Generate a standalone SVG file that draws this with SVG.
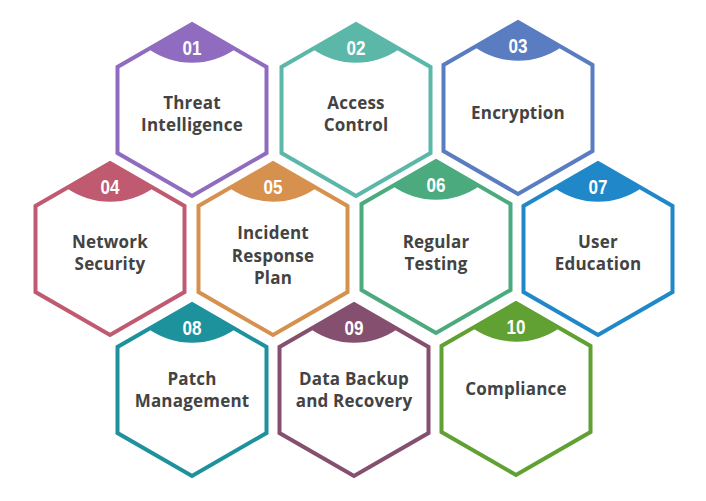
<svg xmlns="http://www.w3.org/2000/svg" xmlns:xlink="http://www.w3.org/1999/xlink" width="706" height="501" viewBox="0 0 706 501">
  <style>
    .hex { fill: #ffffff; stroke-width: 4; stroke-linejoin: miter; }
    text.num { font-family: "Liberation Sans", "DejaVu Sans", sans-serif; font-weight: 700; font-size: 20px; fill: #ffffff; text-anchor: middle; }
    text.lbl { font-family: "Open Sans", "Liberation Sans", sans-serif; font-weight: 700; font-size: 17px; fill: #434343; text-anchor: middle; letter-spacing: 0.2px; }
    .s1 { stroke: #8f6cc0; } .f1 { fill: #8f6cc0; }
    .s2 { stroke: #5bb8a9; } .f2 { fill: #5bb8a9; }
    .s3 { stroke: #5a7cc1; } .f3 { fill: #5a7cc1; }
    .s4 { stroke: #c05a70; } .f4 { fill: #c05a70; }
    .s5 { stroke: #d7914f; } .f5 { fill: #d7914f; }
    .s6 { stroke: #4caa7f; } .f6 { fill: #4caa7f; }
    .s7 { stroke: #2088c9; } .f7 { fill: #2088c9; }
    .s8 { stroke: #1d919c; } .f8 { fill: #1d919c; }
    .s9 { stroke: #85506f; } .f9 { fill: #85506f; }
    .s10 { stroke: #61a032; } .f10 { fill: #61a032; }
  </style>
  <defs>
    <path id="hexShape" d="M0,-86 L74.5,-43 L74.5,43 L0,86 L-74.5,43 L-74.5,-43 Z"/>
    <path id="capShape" d="M0,-86 L-43.5,-60.9 A76,76 0 0 0 43.5,-60.9 Z"/>
  </defs>
  <rect width="706" height="501" fill="#ffffff"/>
  <g id="connectors"/>

  <g id="node01" transform="translate(192,110)">
    <use xlink:href="#hexShape" class="hex s1"/>
    <use xlink:href="#capShape" class="f1"/>
    <text class="num" x="0" y="-55" textLength="19" lengthAdjust="spacingAndGlyphs" font-family="Liberation Sans, sans-serif" font-weight="bold" fill="#ffffff">01</text>
    <text class="lbl" x="0" y="-1" fill="#434343">Threat</text>
    <text class="lbl" x="0" y="20.5" fill="#434343">Intelligence</text>
  </g>

  <g id="node02" transform="translate(356,110)">
    <use xlink:href="#hexShape" class="hex s2"/>
    <use xlink:href="#capShape" class="f2"/>
    <text class="num" x="0" y="-55" textLength="19" lengthAdjust="spacingAndGlyphs" font-family="Liberation Sans, sans-serif" font-weight="bold" fill="#ffffff">02</text>
    <text class="lbl" x="0" y="-1" fill="#434343">Access</text>
    <text class="lbl" x="0" y="21" fill="#434343">Control</text>
  </g>

  <g id="node03" transform="translate(518,108)">
    <use xlink:href="#hexShape" class="hex s3"/>
    <use xlink:href="#capShape" class="f3"/>
    <text class="num" x="0" y="-55" textLength="19" lengthAdjust="spacingAndGlyphs" font-family="Liberation Sans, sans-serif" font-weight="bold" fill="#ffffff">03</text>
    <text class="lbl" x="0" y="11" fill="#434343">Encryption</text>
  </g>

  <g id="node04" transform="translate(110,249)">
    <use xlink:href="#hexShape" class="hex s4"/>
    <use xlink:href="#capShape" class="f4"/>
    <text class="num" x="0" y="-55" textLength="19" lengthAdjust="spacingAndGlyphs" font-family="Liberation Sans, sans-serif" font-weight="bold" fill="#ffffff">04</text>
    <text class="lbl" x="0" y="-1.5" fill="#434343">Network</text>
    <text class="lbl" x="0" y="20.5" fill="#434343">Security</text>
  </g>

  <g id="node05" transform="translate(273,249)">
    <use xlink:href="#hexShape" class="hex s5"/>
    <use xlink:href="#capShape" class="f5"/>
    <text class="num" x="0" y="-55" textLength="19" lengthAdjust="spacingAndGlyphs" font-family="Liberation Sans, sans-serif" font-weight="bold" fill="#ffffff">05</text>
    <text class="lbl" x="0" y="-10" fill="#434343">Incident</text>
    <text class="lbl" x="0" y="12.5" fill="#434343">Response</text>
    <text class="lbl" x="0" y="35" fill="#434343">Plan</text>
  </g>

  <g id="node06" transform="translate(436,247)">
    <use xlink:href="#hexShape" class="hex s6"/>
    <use xlink:href="#capShape" class="f6"/>
    <text class="num" x="0" y="-55" textLength="19" lengthAdjust="spacingAndGlyphs" font-family="Liberation Sans, sans-serif" font-weight="bold" fill="#ffffff">06</text>
    <text class="lbl" x="0" y="0.5" fill="#434343">Regular</text>
    <text class="lbl" x="0" y="22.5" fill="#434343">Testing</text>
  </g>

  <g id="node07" transform="translate(598,249)">
    <use xlink:href="#hexShape" class="hex s7"/>
    <use xlink:href="#capShape" class="f7"/>
    <text class="num" x="0" y="-55" textLength="19" lengthAdjust="spacingAndGlyphs" font-family="Liberation Sans, sans-serif" font-weight="bold" fill="#ffffff">07</text>
    <text class="lbl" x="0" y="-1.5" fill="#434343">User</text>
    <text class="lbl" x="0" y="21" fill="#434343">Education</text>
  </g>

  <g id="node08" transform="translate(192,390)">
    <use xlink:href="#hexShape" class="hex s8"/>
    <use xlink:href="#capShape" class="f8"/>
    <text class="num" x="0" y="-55" textLength="19" lengthAdjust="spacingAndGlyphs" font-family="Liberation Sans, sans-serif" font-weight="bold" fill="#ffffff">08</text>
    <text class="lbl" x="0" y="-5" fill="#434343">Patch</text>
    <text class="lbl" x="0" y="16.5" fill="#434343">Management</text>
  </g>

  <g id="node09" transform="translate(354,390)">
    <use xlink:href="#hexShape" class="hex s9"/>
    <use xlink:href="#capShape" class="f9"/>
    <text class="num" x="0" y="-55" textLength="19" lengthAdjust="spacingAndGlyphs" font-family="Liberation Sans, sans-serif" font-weight="bold" fill="#ffffff">09</text>
    <text class="lbl" x="0" y="-5" fill="#434343">Data Backup</text>
    <text class="lbl" x="0" y="16.5" fill="#434343">and Recovery</text>
  </g>

  <g id="node10" transform="translate(516,389)">
    <use xlink:href="#hexShape" class="hex s10"/>
    <use xlink:href="#capShape" class="f10"/>
    <text class="num" x="0" y="-55" textLength="19" lengthAdjust="spacingAndGlyphs" font-family="Liberation Sans, sans-serif" font-weight="bold" fill="#ffffff">10</text>
    <text class="lbl" x="0" y="6" fill="#434343">Compliance</text>
  </g>
</svg>
